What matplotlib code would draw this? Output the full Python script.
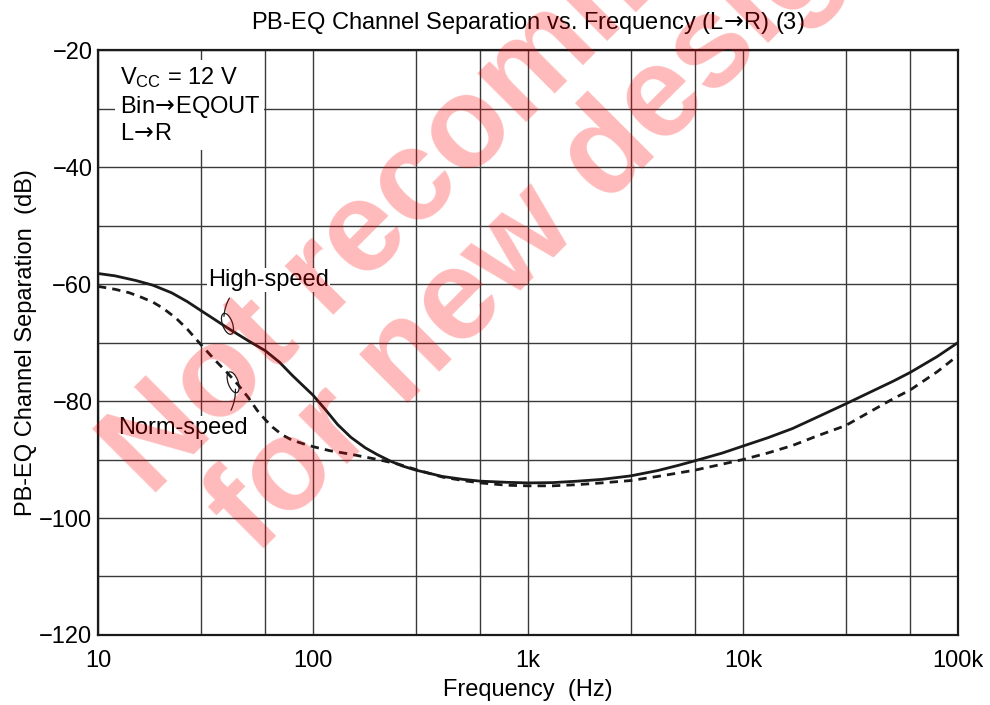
import matplotlib
matplotlib.use('Agg')
import matplotlib.pyplot as plt
import matplotlib.transforms as mtransforms
from matplotlib.patches import Ellipse
from matplotlib.ticker import FixedLocator, NullFormatter

plt.rcParams['font.family'] = ['Liberation Sans', 'DejaVu Sans']
plt.rcParams['mathtext.fontset'] = 'custom'
plt.rcParams['mathtext.rm'] = 'Liberation Sans'
plt.rcParams['mathtext.it'] = 'Liberation Sans'
plt.rcParams['mathtext.cal'] = 'DejaVu Sans'

# arrow from DejaVu, with the math spacing taken back out
ARROW = '$\\!\\mathcal{\\rightarrow}\\!$'

# Data
freq_high = [10, 12, 15, 18, 22, 26, 30, 35, 40, 50, 60, 70, 80, 90, 100, 115,
             130, 150, 175, 200, 230, 260, 300, 400, 500, 600, 800, 1000, 1300,
             1700, 2200, 3000, 4000, 5000, 6000, 8000, 10000, 13000, 17000,
             22000, 30000, 40000, 50000, 60000, 80000, 100000]
db_high = [-58.2, -58.6, -59.4, -60.2, -61.5, -63.0, -64.5, -66.1, -67.5, -69.7,
           -71.4, -73.4, -75.6, -77.4, -79.0, -81.6, -84.0, -86.2, -88.0, -89.2,
           -90.3, -91.1, -91.8, -92.9, -93.4, -93.7, -93.9, -94.0, -93.95, -93.7,
           -93.4, -92.8, -91.9, -91.0, -90.2, -88.9, -87.7, -86.3, -84.7, -82.8,
           -80.5, -78.3, -76.6, -75.1, -72.4, -70.0]

freq_norm = [10, 12, 14, 16, 18, 20, 23, 26, 30, 35, 40, 45, 50, 55, 60, 65, 72,
             80, 90, 100, 120, 150, 200, 250, 300, 400, 500, 600, 800, 1000,
             1300, 1700, 2200, 3000, 4000, 5000, 6000, 8000, 10000, 13000,
             17000, 22000, 30000, 40000, 50000, 60000, 80000, 100000]
db_norm = [-60.4, -60.9, -61.5, -62.3, -63.1, -64.1, -65.8, -67.7, -70.3, -73.0,
           -75.2, -77.3, -79.4, -81.6, -83.2, -84.5, -85.8, -86.7, -87.3, -87.8,
           -88.5, -89.1, -90.0, -90.8, -91.7, -93.0, -93.6, -94.0, -94.4, -94.5,
           -94.5, -94.3, -94.0, -93.6, -92.9, -92.3, -91.8, -90.8, -90.0, -88.9,
           -87.6, -86.0, -84.2, -81.6, -79.6, -78.1, -75.0, -72.2]

x_major = [10, 100, 1000, 10000, 100000]
x_labels = ['10', '100', '1k', '10k', '100k']
x_minor = [30, 60, 300, 600, 3000, 6000, 30000, 60000]
y_major = [-120, -100, -80, -60, -40, -20]
y_minor = [-110, -90, -70, -50, -30]

fig = plt.figure(figsize=(9.9, 7.05), dpi=100)
ax = fig.add_axes([0.099, 0.0993, 0.8687, 0.8297])

ax.plot(freq_high, db_high, color='#1a1a1a', lw=2.0, zorder=4)
ax.plot(freq_norm, db_norm, color='#1a1a1a', lw=2.0, ls=(0, (3, 2.2)), zorder=4)

ax.set_xscale('log')
ax.set_xlim(10, 100000)
ax.set_ylim(-120, -20)
ax.xaxis.set_major_locator(FixedLocator(x_major))
ax.set_xticklabels(x_labels)
ax.xaxis.set_minor_locator(FixedLocator(x_minor))
ax.xaxis.set_minor_formatter(NullFormatter())
ax.set_yticks(y_major)
ax.set_yticklabels([str(v).replace('-', '\u2212') for v in y_major])
ax.set_yticks(y_minor, minor=True)
ax.tick_params(which='both', length=0, labelsize=17)
ax.tick_params(axis='x', pad=11)
ax.tick_params(axis='y', pad=4)
ax.grid(which='both', color='#3a3a3a', lw=1.0)
for s in ax.spines.values():
    s.set_linewidth(1.6)
    s.set_color('#1a1a1a')

ax.set_title('PB-EQ Channel Separation vs. Frequency (L' + ARROW + 'R) (3)', fontsize=17, pad=15)
ax.set_xlabel('Frequency  (Hz)', fontsize=17, labelpad=5)
ax.set_ylabel('PB-EQ Channel Separation  (dB)', fontsize=17, labelpad=2)

ax.text(0.025, 0.975, 'V$_{\\mathrm{CC}}$ = 12 V\nBin' + ARROW + 'EQOUT\nL' + ARROW + 'R',
        transform=ax.transAxes, fontsize=17, va='top', ha='left', linespacing=1.22,
        bbox=dict(facecolor='white', edgecolor='none', pad=3), zorder=3)

ax.text(32.5, -59.3, 'High-speed', fontsize=17, va='center', ha='left',
        bbox=dict(facecolor='white', edgecolor='none', pad=1), zorder=3)
ax.text(12.4, -84.6, 'Norm-speed', fontsize=17, va='center', ha='left',
        bbox=dict(facecolor='white', edgecolor='none', pad=1), zorder=3)

# leader lines with small loops
ax.annotate('', xy=(38.5, -66.0), xytext=(41.5, -62.0),
            arrowprops=dict(arrowstyle='-', lw=0.9, color='#1a1a1a',
                            connectionstyle='arc3,rad=0.15'))
ax.annotate('', xy=(43.5, -77.5), xytext=(41.0, -82.0),
            arrowprops=dict(arrowstyle='-', lw=0.9, color='#1a1a1a',
                            connectionstyle='arc3,rad=0.15'))
for fx, fy in [(40.0, -66.8), (42.5, -76.8)]:
    tr = fig.dpi_scale_trans + mtransforms.ScaledTranslation(fx, fy, ax.transData)
    ax.add_patch(Ellipse((0, 0), 0.1, 0.22, angle=20, transform=tr, fill=False,
                         lw=0.9, ec='#1a1a1a', zorder=5, clip_on=False))

# watermark
wm = dict(fontsize=93, fontweight='bold', color='#ff0000', alpha=0.27,
          rotation=45, rotation_mode='anchor', ha='left', va='baseline', zorder=10)
fig.text(150 / 990, 1 - 498 / 705, 'Not recommended', **wm)
fig.text(255 / 990, 1 - 556 / 705, 'for new designs', **wm)

fig.savefig('out.png', dpi=100)
